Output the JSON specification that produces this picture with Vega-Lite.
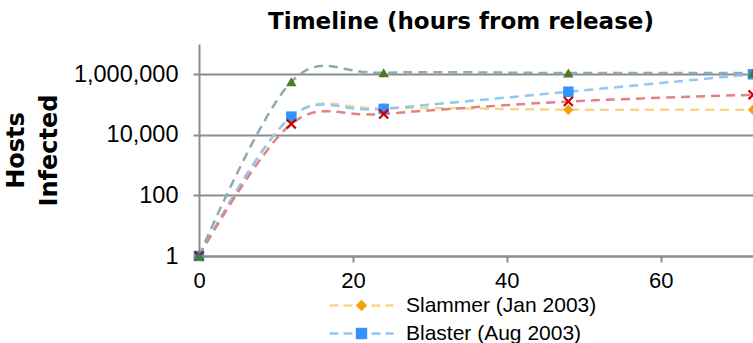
{
  "$schema": "https://vega.github.io/schema/vega-lite/v6.json",
  "width": 554,
  "height": 212,
  "autosize": "none",
  "padding": {"left": 199, "top": 44, "right": 0, "bottom": 87},
  "background": "white",
  "config": {"font": "Liberation Sans", "view": {"stroke": null}},
  "title": {
    "text": "Timeline (hours from release)",
    "font": "DejaVu Sans",
    "fontWeight": "bold",
    "fontSize": 23,
    "color": "black",
    "anchor": "middle",
    "dx": -15,
    "offset": 10
  },
  "data": {
    "values": [
      {"series": "Slammer (Jan 2003)", "hours": 0, "hosts": 1},
      {"series": "Slammer (Jan 2003)", "hours": 12, "hosts": 40000},
      {"series": "Slammer (Jan 2003)", "hours": 24, "hosts": 75000},
      {"series": "Slammer (Jan 2003)", "hours": 48, "hosts": 68000},
      {"series": "Slammer (Jan 2003)", "hours": 72, "hosts": 68000},
      {"series": "Blaster (Aug 2003)", "hours": 0, "hosts": 1},
      {"series": "Blaster (Aug 2003)", "hours": 12, "hosts": 40000},
      {"series": "Blaster (Aug 2003)", "hours": 24, "hosts": 72000},
      {"series": "Blaster (Aug 2003)", "hours": 48, "hosts": 265000},
      {"series": "Blaster (Aug 2003)", "hours": 72, "hosts": 1000000},
      {"series": "Code Red (Jul 2001)", "hours": 0, "hosts": 1},
      {"series": "Code Red (Jul 2001)", "hours": 12, "hosts": 23000},
      {"series": "Code Red (Jul 2001)", "hours": 24, "hosts": 49000},
      {"series": "Code Red (Jul 2001)", "hours": 48, "hosts": 126000},
      {"series": "Code Red (Jul 2001)", "hours": 72, "hosts": 210000},
      {"series": "Conficker (Nov 2008)", "hours": 0, "hosts": 1},
      {"series": "Conficker (Nov 2008)", "hours": 12, "hosts": 565000},
      {"series": "Conficker (Nov 2008)", "hours": 24, "hosts": 1120000},
      {"series": "Conficker (Nov 2008)", "hours": 48, "hosts": 1100000},
      {"series": "Conficker (Nov 2008)", "hours": 72, "hosts": 1100000}
    ]
  },
  "encoding": {
    "x": {
      "field": "hours",
      "type": "quantitative",
      "scale": {"domain": [0, 72], "nice": false},
      "axis": {
        "title": null,
        "values": [0, 20, 40, 60],
        "grid": false,
        "labelFlush": false,
        "domainColor": "#8c8c8c",
        "domainWidth": 2,
        "tickColor": "#8c8c8c",
        "tickWidth": 2,
        "tickSize": 6,
        "tickOpacity": {"expr": "datum.value == 0 ? 0 : 1"},
        "labelFont": "Liberation Sans",
        "labelFontSize": 22,
        "labelColor": "black",
        "labelPadding": 8
      }
    },
    "y": {
      "field": "hosts",
      "type": "quantitative",
      "scale": {"type": "log", "domain": [1, 10000000], "nice": false},
      "axis": {
        "title": ["Hosts", "Infected"],
        "titleFont": "DejaVu Sans",
        "titleFontWeight": "bold",
        "titleFontSize": 24,
        "titleColor": "black",
        "titleLineHeight": 33,
        "titlePadding": 12,
        "values": [1, 100, 10000, 1000000],
        "format": ",",
        "grid": true,
        "labelFlush": false,
        "gridColor": "#8c8c8c",
        "gridWidth": 2,
        "domainColor": "#8c8c8c",
        "domainWidth": 2,
        "tickColor": "#8c8c8c",
        "tickWidth": 2,
        "tickSize": 6,
        "labelFont": "Liberation Sans",
        "labelFontSize": 23.5,
        "labelColor": "black",
        "labelPadding": 15
      }
    }
  },
  "layer": [
    {
      "mark": {"type": "line", "interpolate": "cardinal", "tension": 0, "strokeWidth": 2.5, "strokeDash": [9, 6]},
      "encoding": {
        "color": {
          "field": "series",
          "type": "nominal",
          "scale": {
            "domain": ["Slammer (Jan 2003)", "Blaster (Aug 2003)", "Code Red (Jul 2001)", "Conficker (Nov 2008)"],
            "range": ["#f8d685", "#93c6f5", "#e28282", "#8faab3"]
          },
          "legend": {
            "orient": "none",
            "legendX": 152,
            "legendY": 251,
            "title": null,
            "padding": 0,
            "symbolType": "M-5,0H5",
            "symbolSize": 164,
            "symbolDash": [9, 5],
            "symbolStrokeWidth": 2.5,
            "labelFont": "Liberation Sans",
            "labelFontSize": 21,
            "labelColor": "black",
            "labelOffset": 34,
            "labelLimit": 0,
            "rowPadding": 6
          }
        }
      }
    },
    {
      "mark": {"type": "point", "filled": true, "opacity": 1, "size": 110},
      "encoding": {
        "color": {
          "field": "series",
          "type": "nominal",
          "scale": {
            "domain": ["Slammer (Jan 2003)", "Blaster (Aug 2003)", "Code Red (Jul 2001)", "Conficker (Nov 2008)"],
            "range": ["#f0a30a", "#3393ff", "#c80000", "#4e7b1e"]
          },
          "legend": {
            "orient": "none",
            "legendX": 152,
            "legendY": 251,
            "title": null,
            "padding": 0,
            "symbolSize": 130,
            "symbolStrokeWidth": 0,
            "labelFont": "Liberation Sans",
            "labelFontSize": 21,
            "labelOpacity": 0,
            "labelLimit": 0,
            "rowPadding": 6
          }
        },
        "shape": {
          "field": "series",
          "type": "nominal",
          "scale": {
            "domain": ["Slammer (Jan 2003)", "Blaster (Aug 2003)", "Code Red (Jul 2001)", "Conficker (Nov 2008)"],
            "range": ["diamond", "square", "M-0.7,-1L0,-0.3L0.7,-1L1,-0.7L0.3,0L1,0.7L0.7,1L0,0.3L-0.7,1L-1,0.7L-0.3,0L-1,-0.7Z", "triangle-up"]
          },
          "legend": {
            "orient": "none",
            "legendX": 152,
            "legendY": 251,
            "title": null,
            "padding": 0,
            "symbolSize": 130,
            "symbolStrokeWidth": 0,
            "labelFont": "Liberation Sans",
            "labelFontSize": 21,
            "labelOpacity": 0,
            "labelLimit": 0,
            "rowPadding": 6
          }
        }
      }
    }
  ],
  "resolve": {
    "scale": {"color": "independent", "shape": "independent"},
    "legend": {"color": "independent", "shape": "independent"}
  }
}
